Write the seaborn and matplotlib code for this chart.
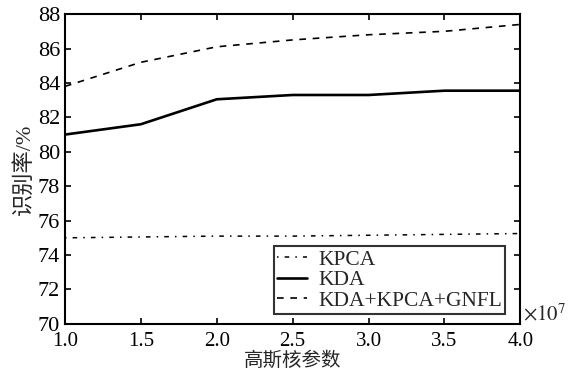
import numpy as np
import pandas as pd
import matplotlib
matplotlib.use('Agg')
import matplotlib.pyplot as plt
from matplotlib.ticker import FuncFormatter
import seaborn as sns

# kernel parameter and recognition rates (%)
sigma = [1.0e7, 1.5e7, 2.0e7, 2.5e7, 3.0e7, 3.5e7, 4.0e7]
kpca = [75.0, 75.05, 75.1, 75.1, 75.15, 75.2, 75.25]
kda = [81.0, 81.6, 83.05, 83.3, 83.3, 83.55, 83.55]
fused = [83.8, 85.2, 86.1, 86.5, 86.8, 87.0, 87.4]
labels = ['KPCA', 'KDA', 'KDA+KPCA+GNFL']


def main():
    sns.set_theme(style='ticks')
    plt.rcParams['font.family'] = ['Liberation Serif', 'Noto Sans CJK SC']
    plt.rcParams['mathtext.fontset'] = 'stix'

    df = pd.DataFrame({'sigma': sigma * 3,
                       'rate': kpca + kda + fused,
                       'method': [labels[0]] * 7 + [labels[1]] * 7 + [labels[2]] * 7})

    fig, ax = plt.subplots(figsize=(5.75, 3.71), dpi=100)
    fig.subplots_adjust(left=0.113, right=0.905, top=0.962, bottom=0.127)

    styles = {labels[0]: (0, (1, 4, 3, 4)), labels[1]: '-', labels[2]: (0, (4, 4))}
    widths = {labels[0]: 1.1, labels[1]: 1.9, labels[2]: 1.2}
    for name in labels:
        sub = df[df['method'] == name]
        sns.lineplot(data=sub, x='sigma', y='rate', ax=ax, color='black',
                     linestyle=styles[name], linewidth=widths[name], label=name)

    ax.set_xlim(1.0e7, 4.0e7)
    ax.set_ylim(70, 88)
    ax.set_xticks(np.arange(1.0e7, 4.01e7, 0.5e7))
    ax.set_yticks(np.arange(70, 89, 2))
    ax.xaxis.set_major_formatter(FuncFormatter(lambda v, p: '{:.1f}'.format(v / 1e7)))
    ax.text(1.005, -0.005, r'$\times10^7$', transform=ax.transAxes, fontsize=15,
            ha='left', va='bottom')
    ax.tick_params(direction='in', top=True, right=True, labelsize=16, length=4, width=1.2, colors='black')
    ax.tick_params(axis='x', pad=6, labelsize=15)
    for s in ax.spines.values():
        s.set_linewidth(1.5)
        s.set_color('black')

    ax.set_xlabel('高斯核参数', fontsize=14, labelpad=0)
    ax.set_ylabel('识别率/%', fontsize=16, labelpad=2)

    leg = ax.legend(loc='lower right', bbox_to_anchor=(0.967, 0.032), fontsize=15.5,
                    frameon=True, fancybox=False, edgecolor='black', handlelength=1.4,
                    borderpad=0.15, labelspacing=0.02, handletextpad=0.5, borderaxespad=0)
    leg.get_frame().set_linewidth(1.5)

    fig.savefig('out.png', dpi=100)


if __name__ == "__main__":
    main()
